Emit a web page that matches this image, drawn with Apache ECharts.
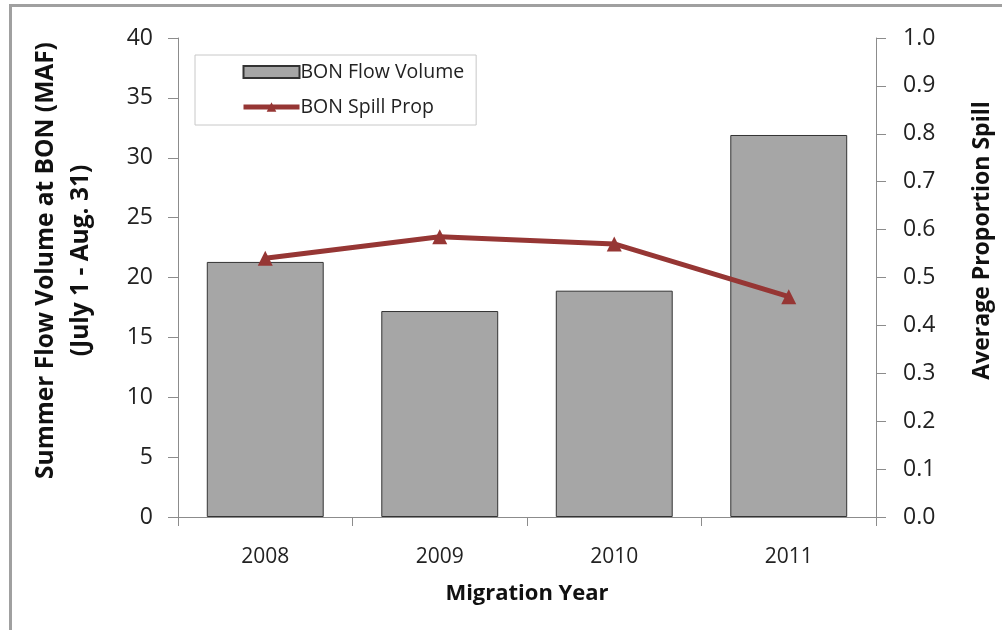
<!DOCTYPE html>
<html>
<head>
<meta charset="utf-8">
<script src="https://cdn.jsdelivr.net/npm/echarts@6/dist/echarts.min.js"></script>
<style>
  html, body { margin: 0; padding: 0; background: #fff; }
  #chart { width: 1002px; height: 630px; }
</style>
</head>
<body>
<div id="chart"></div>
<script>
// migration years
let years = ['2008', '2009', '2010', '2011'];
// summer flow volume at BON (MAF)
let flowVolume = [21.3, 17.2, 18.9, 31.9];
// average proportion spill
let spillProp = [0.54, 0.585, 0.57, 0.46];

let font = 'Open Sans';
let axisGrey = '#8c8c8c';
let spillRed = '#963634';

let myChart = echarts.init(document.querySelector('#chart'));

let option = {
    backgroundColor: '#fff',
    animation: false,
    textStyle: { fontFamily: font },
    grid: {
        left: 178,
        right: 126,
        top: 38,
        bottom: 113,
        outerBoundsMode: 'none'
    },
    legend: {
        orient: 'vertical',
        left: 195,
        top: 55,
        padding: [5, 12, 6, 46],
        itemGap: 11,
        itemWidth: 56,
        itemHeight: 12,
        borderColor: '#c8c8c8',
        borderWidth: 1,
        textStyle: { fontSize: 19.5, color: '#222', fontFamily: font, lineHeight: 24, padding: [0, 0, 0, -4] },
        data: [
            { name: 'BON Flow Volume', icon: 'rect' },
            { name: 'BON Spill Prop', lineStyle: { width: 5 } }
        ]
    },
    graphic: [{
        type: 'rect',
        shape: { x: 10.5, y: 5.5, width: 1100, height: 700 },
        style: { fill: 'none', stroke: '#a0a0a0', lineWidth: 3 },
        silent: true
    }],
    xAxis: {
        type: 'category',
        data: years,
        name: 'Migration Year',
        nameLocation: 'middle',
        nameGap: 66,
        nameTextStyle: { fontSize: 22, fontWeight: 'bold', color: '#111', fontFamily: font },
        axisLine: { lineStyle: { color: axisGrey, width: 1 } },
        axisTick: { show: true, length: 9, lineStyle: { color: axisGrey } },
        axisLabel: { fontSize: 21, color: '#222', margin: 30 },
        splitLine: { show: false }
    },
    yAxis: [
        {
            type: 'value',
            min: 0,
            max: 40,
            interval: 5,
            name: 'Summer Flow Volume at BON (MAF)\n(July 1 - Aug. 31)',
            nameLocation: 'middle',
            nameGap: 79,
            nameTextStyle: {
                fontSize: 24.5,
                fontWeight: 'bold',
                color: '#111',
                lineHeight: 35,
                fontFamily: font,
                padding: [0, 0, 0, 34]
            },
            axisLine: { show: true, lineStyle: { color: axisGrey } },
            axisTick: { show: true, length: 10, lineStyle: { color: axisGrey } },
            axisLabel: { fontSize: 23, color: '#222', margin: 25 },
            splitLine: { show: false }
        },
        {
            type: 'value',
            min: 0,
            max: 1,
            interval: 0.1,
            name: 'Average Proportion Spill',
            nameLocation: 'middle',
            nameGap: 95,
            nameRotate: 90,
            nameTextStyle: {
                fontSize: 23,
                fontWeight: 'bold',
                color: '#111',
                fontFamily: font,
                padding: [0, 0, 0, 74]
            },
            axisLine: { show: true, lineStyle: { color: axisGrey } },
            axisTick: { show: true, length: 10, lineStyle: { color: axisGrey } },
            axisLabel: {
                fontSize: 23,
                color: '#222',
                margin: 27,
                formatter: function (v) { return v.toFixed(1); }
            },
            splitLine: { show: false }
        }
    ],
    series: [
        {
            name: 'BON Flow Volume',
            type: 'bar',
            data: flowVolume,
            barWidth: '67%',
            itemStyle: { color: '#a6a6a6', borderColor: '#333', borderWidth: 1 }
        },
        {
            name: 'BON Spill Prop',
            type: 'line',
            yAxisIndex: 1,
            data: spillProp,
            symbol: 'triangle',
            symbolSize: 15,
            lineStyle: { color: spillRed, width: 5 },
            itemStyle: { color: spillRed }
        }
    ]
};

myChart.setOption(option);
</script>
</body>
</html>
